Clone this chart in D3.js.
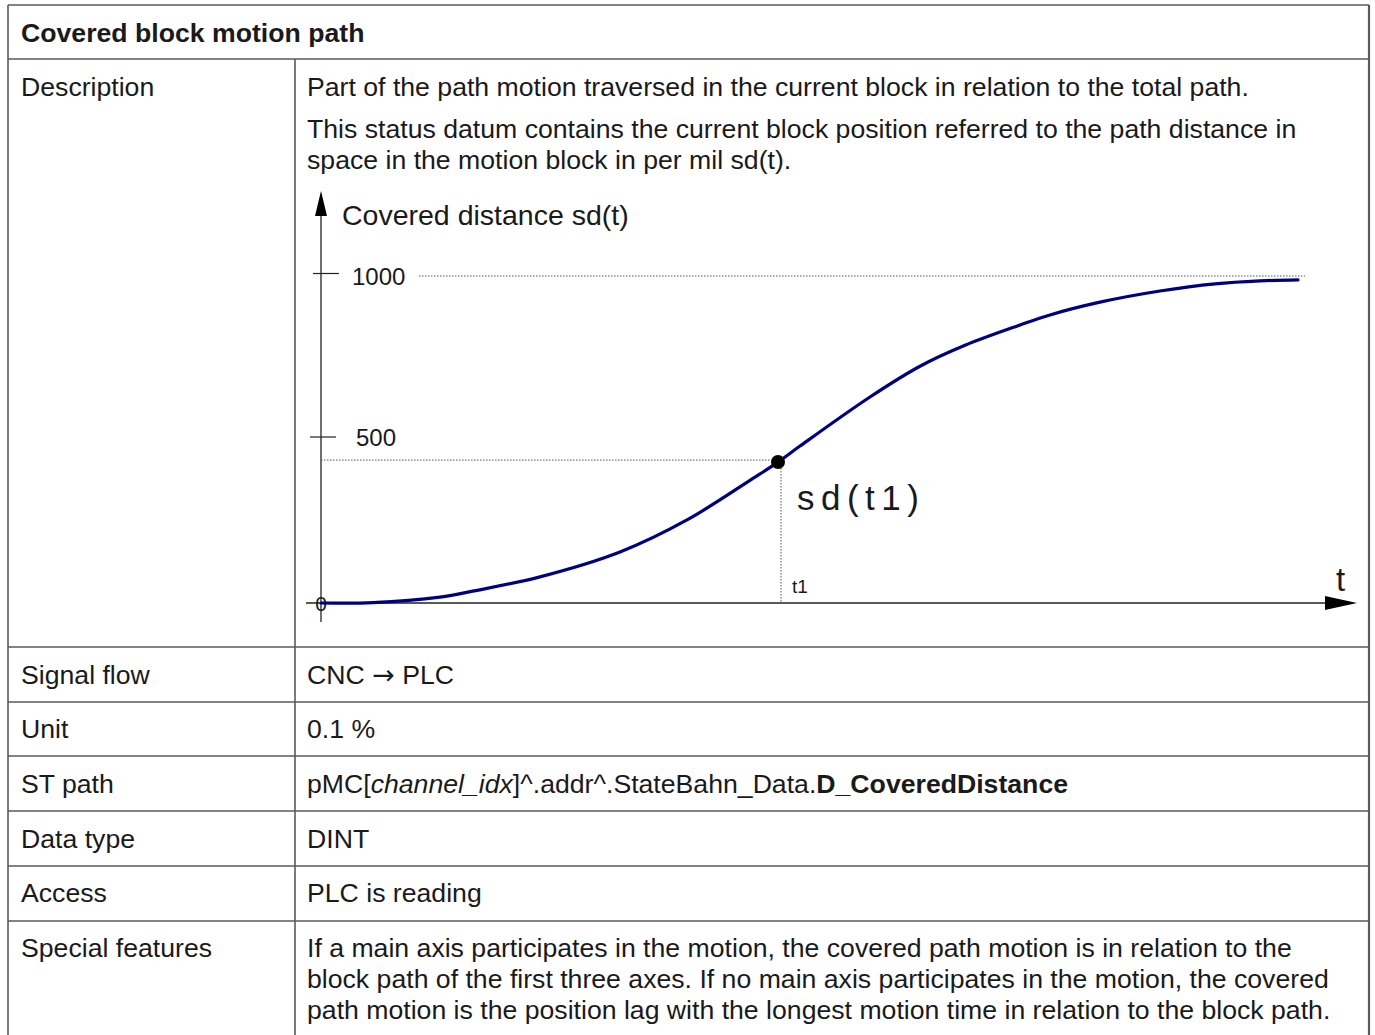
<!DOCTYPE html>
<html>
<head>
<meta charset="utf-8">
<script src="https://cdn.jsdelivr.net/npm/d3@7"></script>
<style>
html,body{margin:0;padding:0;background:#fff;}
svg{display:block;}
text{font-family:"Liberation Sans",Arial,Helvetica,sans-serif;fill:#1a1a1a;}
</style>
</head>
<body>
<svg id="chart" width="1375" height="1035"></svg>
<script>
// ---- data ----
const timeValues = [0, 52, 119, 153, 219, 299, 366, 434, 457, 479, 549, 599, 644, 699, 729, 779, 839, 894, 939, 977];
const distanceValues = [0, 1, 18, 37, 80, 156, 254, 385, 431, 480, 630, 724, 788, 850, 881, 920, 954, 976, 985, 988];
const yTickValues = [0, 500, 1000];
const yTickLabels = ["0", "500", "1000"];
const t1Time = 457;
const t1Distance = 431;

const rowLabels = ["Signal flow", "Unit", "ST path", "Data type", "Access", "Special features"];
const titleText = "Covered block motion path";
const descLines = [
  "Part of the path motion traversed in the current block in relation to the total path.",
  "This status datum contains the current block position referred to the path distance in",
  "space in the motion block in per mil sd(t)."
];
const specialLines = [
  "If a main axis participates in the motion, the covered path motion is in relation to the",
  "block path of the first three axes. If no main axis participates in the motion, the covered",
  "path motion is the position lag with the longest motion time in relation to the block path."
];

const svg = d3.select("#chart");

// ---- table grid ----
const L = 8, R = 1369, C = 295;
const hLines = [5, 59, 647, 702, 756, 811, 866, 921];
const grid = svg.append("g").attr("stroke", "#5a5a5a").attr("stroke-width", 1.6);
hLines.forEach(y => grid.append("line").attr("x1", L).attr("x2", R).attr("y1", y).attr("y2", y));
grid.append("line").attr("x1", L).attr("x2", L).attr("y1", 5).attr("y2", 1035);
grid.append("line").attr("x1", R).attr("x2", R).attr("y1", 5).attr("y2", 1035).attr("stroke-width", 2.2);
grid.append("line").attr("x1", C).attr("x2", C).attr("y1", 59).attr("y2", 1035);

const FS = 26.65;
svg.append("text").attr("x", 21).attr("y", 42).attr("font-size", FS).attr("font-weight", "bold").text(titleText);
svg.append("text").attr("x", 21).attr("y", 96).attr("font-size", FS).text("Description");
svg.append("text").attr("x", 307).attr("y", 96).attr("font-size", FS).text(descLines[0]);
svg.append("text").attr("x", 307).attr("y", 138).attr("font-size", FS).text(descLines[1]);
svg.append("text").attr("x", 307).attr("y", 169).attr("font-size", FS).text(descLines[2]);

const rowBase = [684, 738, 793, 848, 902, 957];
rowLabels.forEach((lab, i) => {
  svg.append("text").attr("x", 21).attr("y", rowBase[i]).attr("font-size", FS).text(lab);
});
const sf = svg.append("text").attr("x", 307).attr("y", rowBase[0]).attr("font-size", FS);
sf.append("tspan").text("CNC ");
sf.append("tspan").attr("font-family", "DejaVu Sans").attr("font-size", 27).text("\u2192");
sf.append("tspan").text(" PLC");
svg.append("text").attr("x", 307).attr("y", rowBase[1]).attr("font-size", FS).text("0.1 %");
const st = svg.append("text").attr("x", 307).attr("y", rowBase[2]).attr("font-size", FS);
st.append("tspan").text("pMC[");
st.append("tspan").attr("font-style", "italic").text("channel_idx");
st.append("tspan").text("]^.addr^.StateBahn_Data.");
st.append("tspan").attr("font-weight", "bold").text("D_CoveredDistance");
svg.append("text").attr("x", 307).attr("y", rowBase[3]).attr("font-size", FS).text("DINT");
svg.append("text").attr("x", 307).attr("y", rowBase[4]).attr("font-size", FS).text("PLC is reading");
specialLines.forEach((ln, i) => {
  svg.append("text").attr("x", 307).attr("y", rowBase[5] + i * 31).attr("font-size", FS).text(ln);
});

// ---- chart ----
const x = d3.scaleLinear().domain([0, 1036]).range([321, 1357]);
const y = d3.scaleLinear().domain([0, 1000]).range([603, 276]);
const g = svg.append("g");

// axes
g.append("line").attr("x1", x(0)).attr("x2", x(0)).attr("y1", 210).attr("y2", 622).attr("stroke", "#222").attr("stroke-width", 1.3);
(() => { const p = d3.path(); p.moveTo(x(0), 191); p.lineTo(x(0) + 6, 216); p.lineTo(x(0) - 6, 216); p.closePath();
  g.append("path").attr("d", p.toString()).attr("fill", "#000"); })();
g.append("line").attr("x1", 306).attr("x2", 1330).attr("y1", y(0)).attr("y2", y(0)).attr("stroke", "#222").attr("stroke-width", 1.3);
(() => { const p = d3.path(); p.moveTo(1357, y(0)); p.lineTo(1325, y(0) - 7); p.lineTo(1325, y(0) + 7); p.closePath();
  g.append("path").attr("d", p.toString()).attr("fill", "#000"); })();

// y ticks
[[500, 310, 336], [1000, 313, 339]].forEach(([v, a, b]) => {
  g.append("line").attr("x1", a).attr("x2", b).attr("y1", y(v) - 2.5).attr("y2", y(v) - 2.5).attr("stroke", "#222").attr("stroke-width", 1.2);
});
g.append("text").attr("x", 352).attr("y", y(1000) + 9).attr("font-size", 24).text(yTickLabels[2]);
g.append("text").attr("x", 356).attr("y", y(500) + 6).attr("font-size", 24).text(yTickLabels[1]);
g.append("text").attr("x", x(0)).attr("y", y(0) + 8).attr("font-size", 21).attr("text-anchor", "middle").text(yTickLabels[0]);

// dotted reference lines
g.append("line").attr("x1", 419).attr("x2", 1305).attr("y1", y(1000)).attr("y2", y(1000))
  .attr("stroke", "#555").attr("stroke-width", 1).attr("stroke-dasharray", "1.5,1.5");
g.append("line").attr("x1", x(0)).attr("x2", x(t1Time)).attr("y1", y(t1Distance) - 2).attr("y2", y(t1Distance) - 2)
  .attr("stroke", "#555").attr("stroke-width", 1).attr("stroke-dasharray", "1.5,1.5");
g.append("line").attr("x1", x(t1Time) + 3).attr("x2", x(t1Time) + 3).attr("y1", y(t1Distance)).attr("y2", y(0))
  .attr("stroke", "#555").attr("stroke-width", 1).attr("stroke-dasharray", "1.5,1.5");

// curve
const pts = timeValues.map((t, i) => [t, distanceValues[i]]);
g.append("path").datum(pts)
  .attr("d", d3.line().x(d => x(d[0])).y(d => y(d[1])).curve(d3.curveCatmullRom.alpha(0.5)))
  .attr("fill", "none").attr("stroke", "#00007f").attr("stroke-width", 3.2).attr("stroke-linecap", "round");

// point
g.append("circle").attr("cx", x(t1Time)).attr("cy", y(t1Distance)).attr("r", 7).attr("fill", "#000");

// labels
g.append("text").attr("x", 342).attr("y", 225).attr("font-size", 28.5).text("Covered distance sd(t)");
g.append("text").attr("x", 797).attr("y", 510).attr("font-size", 35).attr("letter-spacing", 6.5).text("sd(t1)");
g.append("text").attr("x", 792).attr("y", 593).attr("font-size", 19).text("t1");
g.append("text").attr("x", 1336).attr("y", 591).attr("font-size", 33).text("t");
</script>
</body>
</html>
